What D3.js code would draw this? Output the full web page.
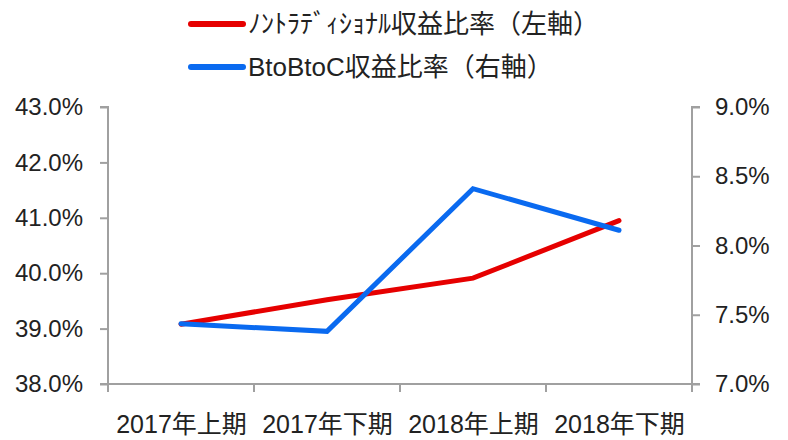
<!DOCTYPE html>
<html><head><meta charset="utf-8">
<script src="https://cdn.jsdelivr.net/npm/d3@7"></script>
<style>
html,body{margin:0;padding:0;background:#fff;}
svg text{font-family:"Liberation Sans",Arial,"Noto Sans CJK JP",sans-serif;fill:#222;}
</style></head>
<body>
<svg id="c" width="788" height="440"></svg>
<script>
const categories = ["2017年上期","2017年下期","2018年上期","2018年下期"];
const nonTraditional = [39.08, 39.52, 39.91, 40.95];
const btobtoc = [7.435, 7.38, 8.41, 8.11];
const leftTicks = [38,39,40,41,42,43];
const rightTicks = [7.0,7.5,8.0,8.5,9.0];
const legendLabels = ["ﾉﾝﾄﾗﾃﾞｨｼｮﾅﾙ収益比率（左軸）","BtoBtoC収益比率（右軸）"];

const svg = d3.select("#c");
const pL = 108, pR = 692, pT = 107, pB = 384;
const axisColor = "#a0a0a0";
const colors = ["#e60000","#0a6af0"];

const x = d3.scalePoint().domain(categories).range([pL,pR]).padding(0.5);
const band = d3.scaleBand().domain(categories).range([pL,pR]);
const yL = d3.scaleLinear().domain([38,43]).range([pB,pT]);
const yR = d3.scaleLinear().domain([7,9]).range([pB,pT]);

const gL = svg.append("g").attr("transform",`translate(${pL},0)`)
  .call(d3.axisLeft(yL).tickValues(leftTicks).tickSize(8).tickPadding(17).tickFormat(d=>d.toFixed(1)+"%"));
const gR = svg.append("g").attr("transform",`translate(${pR},0)`)
  .call(d3.axisRight(yR).tickValues(rightTicks).tickSize(8).tickPadding(15).tickFormat(d=>d.toFixed(1)+"%"));
const gX = svg.append("g").attr("transform",`translate(0,${pB})`)
  .call(d3.axisBottom(x).tickSize(0).tickPadding(31));
const bounds = categories.map(c=>band(c)).concat([band(categories[categories.length-1])+band.bandwidth()]);
gX.selectAll("line.bt").data(bounds).enter().append("line")
  .attr("class","bt").attr("x1",d=>d).attr("x2",d=>d)
  .attr("y1",0).attr("y2",8).attr("stroke",axisColor).attr("stroke-width",2);

[gL,gR,gX].forEach(g=>{
  g.selectAll(".domain").attr("stroke",axisColor).attr("stroke-width",2);
  g.selectAll(".tick line").attr("stroke",axisColor).attr("stroke-width",2);
  g.selectAll("text").attr("font-size",24).attr("fill","#222");
});
gX.selectAll("text").attr("font-size",25);
gL.selectAll(".domain").attr("d",`M-8,${pT}H0V${pB}H-8`);
gR.selectAll(".domain").attr("d",`M8,${pT}H0V${pB}H8`);
gX.selectAll(".domain").attr("d",`M${pL},0H${pR}`);

const lineL = d3.line().x((d,i)=>x(categories[i])).y(d=>yL(d));
const lineR = d3.line().x((d,i)=>x(categories[i])).y(d=>yR(d));
svg.append("path").datum(nonTraditional).attr("d",lineL).attr("fill","none")
  .attr("stroke",colors[0]).attr("stroke-width",5).attr("stroke-linecap","round");
svg.append("path").datum(btobtoc).attr("d",lineR).attr("fill","none")
  .attr("stroke",colors[1]).attr("stroke-width",5).attr("stroke-linecap","round");

const lg = svg.append("g");
legendLabels.forEach((lab,i)=>{
  const yy = 24 + i*43;
  lg.append("line").attr("x1",191).attr("x2",243).attr("y1",yy).attr("y2",yy)
    .attr("stroke",colors[i]).attr("stroke-width",6).attr("stroke-linecap","round");
  lg.append("text").attr("x",248).attr("y",yy).attr("dy","0.35em").attr("font-size",26).text(lab);
});
</script>
</body></html>
